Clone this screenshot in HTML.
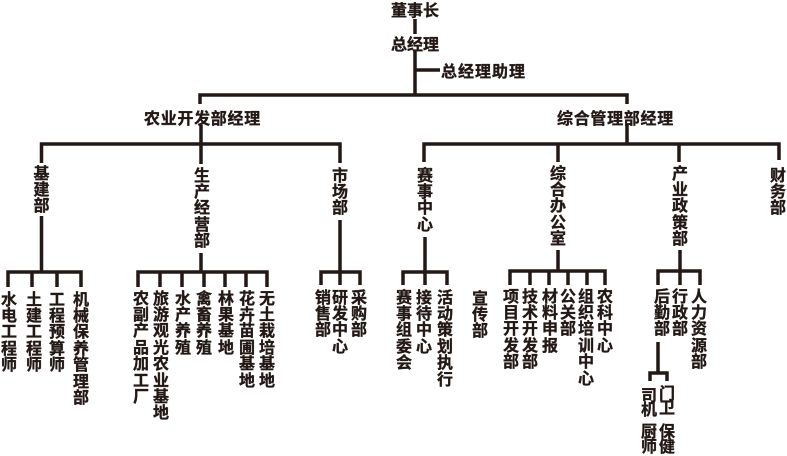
<!DOCTYPE html>
<html><head><meta charset="utf-8">
<style>
html,body{margin:0;padding:0;background:#fff;}
#c{position:relative;width:787px;height:456px;overflow:hidden;background:#fff;}
svg{position:absolute;left:0;top:0;}
.t,.v{position:absolute;font-family:"Liberation Sans","Noto Sans CJK SC",sans-serif;font-weight:bold;font-size:16px;color:#231815;margin-top:3.5px;-webkit-text-stroke:0.35px #231815;}
.t{white-space:nowrap;line-height:16px;}
.v{width:16px;line-height:16.4px;word-break:break-all;text-align:center;}
</style></head><body><div id="c">
<svg width="787" height="456" viewBox="0 0 787 456">
<g fill="none" stroke="#231815" stroke-width="3.5" stroke-linejoin="miter" stroke-linecap="butt">
<path d="M415 19V34"/>
<path d="M415 51V96"/>
<path d="M415 70H440"/>
<path d="M200 104V95H627V104"/>
<path d="M201 125V164"/>
<path d="M41.5 163V144H340V163"/>
<path d="M41.5 216V272"/>
<path d="M8 287V272H81V287M32 272V287M57 272V287"/>
<path d="M201 253V272"/>
<path d="M138 287V272H267V287M160 272V287M182 272V287M204 272V287M225 272V287M246 272V287"/>
<path d="M340 220V272"/>
<path d="M321 285V272H360V285M340 272V285"/>
<path d="M425 237V272"/>
<path d="M403 285V272H447V285M425 272V285"/>
<path d="M627 125V144"/>
<path d="M424 162V144H779V160M558 144V162M679 144V162"/>
<path d="M558 250V271"/>
<path d="M510 285V271H605V285M530 271V285M549 271V285M568 271V285M587 271V285"/>
<path d="M680 250V271"/>
<path d="M658 285V271H700V285M680 271V285"/>
<path d="M658 342V373"/>
<path d="M650 381V373H667V381"/>
</g>
</svg>

<div class="t" style="left:391px;top:0px;">董事长</div>
<div class="t" style="left:391px;top:34px;">总经理</div>
<div class="t" style="left:441px;top:61px;letter-spacing:1px;">总经理助理</div>
<div class="t" style="left:144px;top:108px;letter-spacing:0.7px;">农业开发部经理</div>
<div class="t" style="left:557px;top:108px;letter-spacing:0.7px;">综合管理部经理</div>

<div class="v" style="left:33.5px;top:163px;">基建部</div>
<div class="v" style="left:194px;top:165px;">生产经营部</div>
<div class="v" style="left:332px;top:165px;">市场部</div>
<div class="v" style="left:417px;top:165px;">赛事中心</div>
<div class="v" style="left:550px;top:163px;">综合办公室</div>
<div class="v" style="left:672px;top:163px;">产业政策部</div>
<div class="v" style="left:770px;top:165px;">财务部</div>

<div class="v" style="left:1px;top:289px;">水电工程师</div>
<div class="v" style="left:26px;top:289px;">土建工程师</div>
<div class="v" style="left:49px;top:289px;">工程预算师</div>
<div class="v" style="left:73px;top:289px;">机械保养管理部</div>

<div class="v" style="left:133px;top:288px;">农副产品加工厂</div>
<div class="v" style="left:153px;top:288px;">旅游观光农业基地</div>
<div class="v" style="left:175px;top:288px;">水产养殖</div>
<div class="v" style="left:196px;top:288px;">禽畜养殖</div>
<div class="v" style="left:218px;top:288px;">林果基地</div>
<div class="v" style="left:239px;top:288px;">花卉苗圃基地</div>
<div class="v" style="left:259px;top:288px;">无土栽培基地</div>

<div class="v" style="left:315px;top:287px;">销售部</div>
<div class="v" style="left:332px;top:287px;">研发中心</div>
<div class="v" style="left:351px;top:287px;">采购部</div>

<div class="v" style="left:396px;top:287px;">赛事组委会</div>
<div class="v" style="left:416px;top:287px;">接待中心</div>
<div class="v" style="left:437px;top:287px;">活动策划执行</div>

<div class="v" style="left:472px;top:288px;">宣传部</div>

<div class="v" style="left:503px;top:286px;">项目开发部</div>
<div class="v" style="left:522px;top:286px;">技术开发部</div>
<div class="v" style="left:542px;top:286px;">材料申报</div>
<div class="v" style="left:560px;top:286px;">公关部</div>
<div class="v" style="left:578px;top:286px;">组织培训中心</div>
<div class="v" style="left:597px;top:286px;">农科中心</div>

<div class="v" style="left:654px;top:286px;">后勤部</div>
<div class="v" style="left:672px;top:286px;">行政部</div>
<div class="v" style="left:691px;top:286px;">人力资源部</div>

<div class="v" style="left:641px;top:386px;line-height:14.5px;">司机</div>
<div class="v" style="left:659px;top:384px;line-height:14.5px;">门卫</div>
<div class="v" style="left:641px;top:421px;line-height:15px;">厨师</div>
<div class="v" style="left:659px;top:421px;line-height:15px;">保健</div>
</div></body></html>
